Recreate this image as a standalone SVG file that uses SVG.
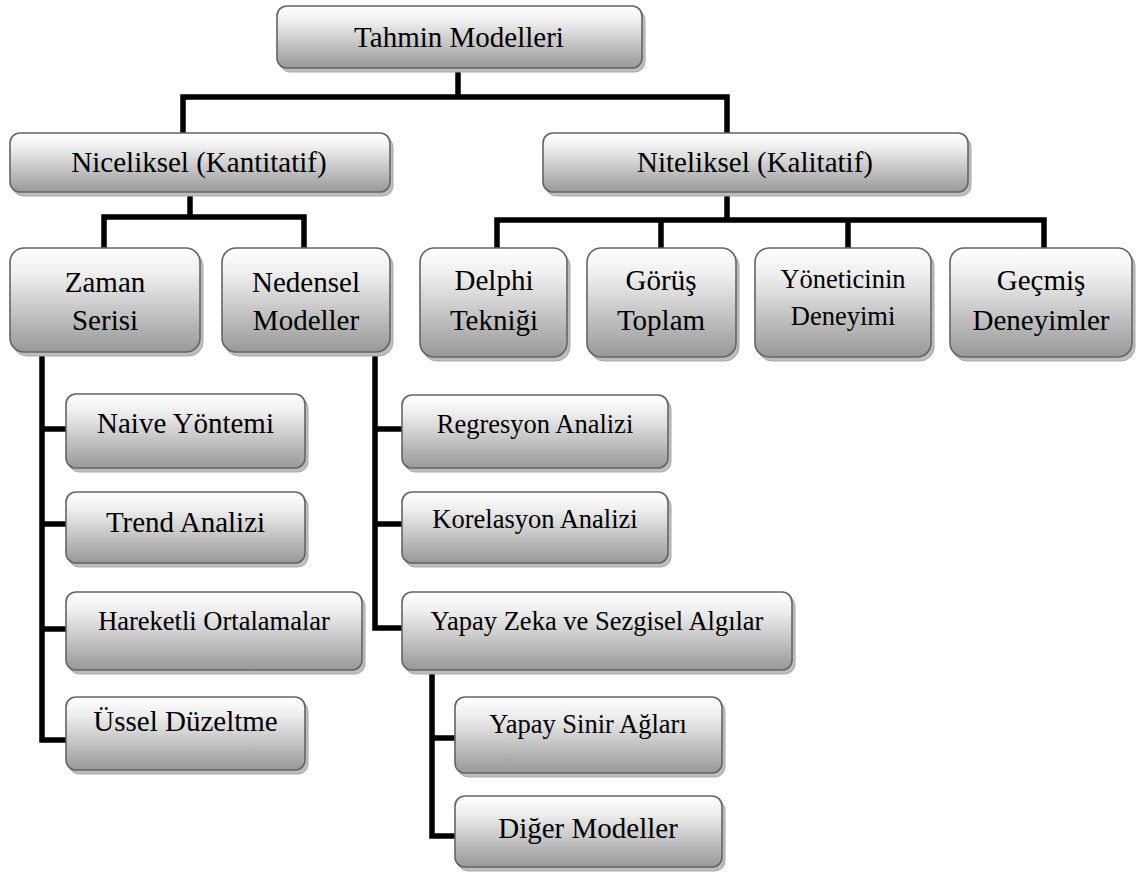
<svg xmlns="http://www.w3.org/2000/svg" width="1141" height="877" viewBox="0 0 1141 877">
<defs>
<linearGradient id="g" x1="0" y1="0" x2="0" y2="1">
<stop offset="0" stop-color="#ffffff"/>
<stop offset="0.25" stop-color="#eeeeee"/>
<stop offset="1" stop-color="#989898"/>
</linearGradient>
<style>
.sh{fill:#bdbdbd;stroke:#a8a8a8;stroke-width:1}
.bx{fill:url(#g);stroke:#646464;stroke-width:1.6}
text{font-family:'Liberation Serif','Times New Roman',serif;fill:#000;text-anchor:middle}
.b{font-size:29px}
.s{font-size:26.5px}
.c{fill:none;stroke:#000;stroke-width:5.5;stroke-linejoin:miter;stroke-linecap:square}
</style>
</defs>
<rect width="1141" height="877" fill="#fff"/>
<g id="connectors">
<path class="c" d="M458 68V97M183 133V97H727V133"/>
<path class="c" d="M190 192V217M104 248V217H304V248"/>
<path class="c" d="M727 192V220M497 248V220H1044V248M661 220V248M848 220V248"/>
<path class="c" d="M42 352V740H66M42 429H66M42 524H66M42 629H66"/>
<path class="c" d="M375 352V628H402M375 429H402M375 524H402"/>
<path class="c" d="M432 670V836H455M432 738H455"/>
</g>
<g id="n-tahmin"><rect class="sh" x="280" y="10" width="365" height="62" rx="10"/><rect class="bx" x="277" y="6" width="365" height="62" rx="10"/><text class="b" x="459" y="47">Tahmin Modelleri</text></g>
<g id="n-niceliksel"><rect class="sh" x="13" y="137" width="380" height="59" rx="10"/><rect class="bx" x="10" y="133" width="380" height="59" rx="10"/><text class="b" x="199" y="172">Niceliksel (Kantitatif)</text></g>
<g id="n-niteliksel"><rect class="sh" x="546" y="137" width="425" height="59" rx="10"/><rect class="bx" x="543" y="133" width="425" height="59" rx="10"/><text class="b" x="755" y="172">Niteliksel (Kalitatif)</text></g>
<g id="n-zaman"><rect class="sh" x="13" y="252" width="190" height="104" rx="14"/><rect class="bx" x="10" y="248" width="190" height="104" rx="14"/><text class="b" x="105" y="292">Zaman</text><text class="b" x="105" y="330">Serisi</text></g>
<g id="n-nedensel"><rect class="sh" x="225" y="252" width="168" height="104" rx="14"/><rect class="bx" x="222" y="248" width="168" height="104" rx="14"/><text class="b" x="306" y="292">Nedensel</text><text class="b" x="306" y="330">Modeller</text></g>
<g id="n-delphi"><rect class="sh" x="423" y="252" width="147" height="109" rx="14"/><rect class="bx" x="420" y="248" width="147" height="109" rx="14"/><text class="b" x="494" y="290">Delphi</text><text class="b" x="494" y="330">Tekniği</text></g>
<g id="n-gorus"><rect class="sh" x="590" y="252" width="149" height="109" rx="14"/><rect class="bx" x="587" y="248" width="149" height="109" rx="14"/><text class="b" x="661" y="290">Görüş</text><text class="b" x="661" y="330">Toplam</text></g>
<g id="n-yonetici"><rect class="sh" x="758" y="252" width="176" height="109" rx="14"/><rect class="bx" x="755" y="248" width="176" height="109" rx="14"/><text class="s" x="843" y="288">Yöneticinin</text><text class="s" x="843" y="325">Deneyimi</text></g>
<g id="n-gecmis"><rect class="sh" x="953" y="252" width="182" height="109" rx="14"/><rect class="bx" x="950" y="248" width="182" height="109" rx="14"/><text class="b" x="1041" y="290">Geçmiş</text><text class="b" x="1041" y="330">Deneyimler</text></g>
<g id="n-naive"><rect class="sh" x="69" y="398" width="239" height="74" rx="10"/><rect class="bx" x="66" y="394" width="239" height="74" rx="10"/><text class="b" x="185.5" y="433">Naive Yöntemi</text></g>
<g id="n-trend"><rect class="sh" x="69" y="496" width="239" height="71" rx="10"/><rect class="bx" x="66" y="492" width="239" height="71" rx="10"/><text class="b" x="185.5" y="532">Trend Analizi</text></g>
<g id="n-hareketli"><rect class="sh" x="69" y="596" width="296" height="78" rx="10"/><rect class="bx" x="66" y="592" width="296" height="78" rx="10"/><text class="s" x="214" y="630">Hareketli Ortalamalar</text></g>
<g id="n-ussel"><rect class="sh" x="69" y="701" width="239" height="73" rx="10"/><rect class="bx" x="66" y="697" width="239" height="73" rx="10"/><text class="b" x="185.5" y="731">Üssel Düzeltme</text></g>
<g id="n-regresyon"><rect class="sh" x="405" y="399" width="266" height="73" rx="10"/><rect class="bx" x="402" y="395" width="266" height="73" rx="10"/><text class="s" x="535" y="433">Regresyon Analizi</text></g>
<g id="n-korelasyon"><rect class="sh" x="405" y="496" width="266" height="71" rx="10"/><rect class="bx" x="402" y="492" width="266" height="71" rx="10"/><text class="s" x="535" y="528">Korelasyon Analizi</text></g>
<g id="n-yapayzeka"><rect class="sh" x="405" y="596" width="390" height="78" rx="10"/><rect class="bx" x="402" y="592" width="390" height="78" rx="10"/><text class="s" x="597" y="630">Yapay Zeka ve Sezgisel Algılar</text></g>
<g id="n-yapaysinir"><rect class="sh" x="458" y="701" width="267" height="76" rx="10"/><rect class="bx" x="455" y="697" width="267" height="76" rx="10"/><text class="s" x="588" y="733">Yapay Sinir Ağları</text></g>
<g id="n-diger"><rect class="sh" x="458" y="800" width="267" height="71" rx="10"/><rect class="bx" x="455" y="796" width="267" height="71" rx="10"/><text class="b" x="588" y="838">Diğer Modeller</text></g>
</svg>
